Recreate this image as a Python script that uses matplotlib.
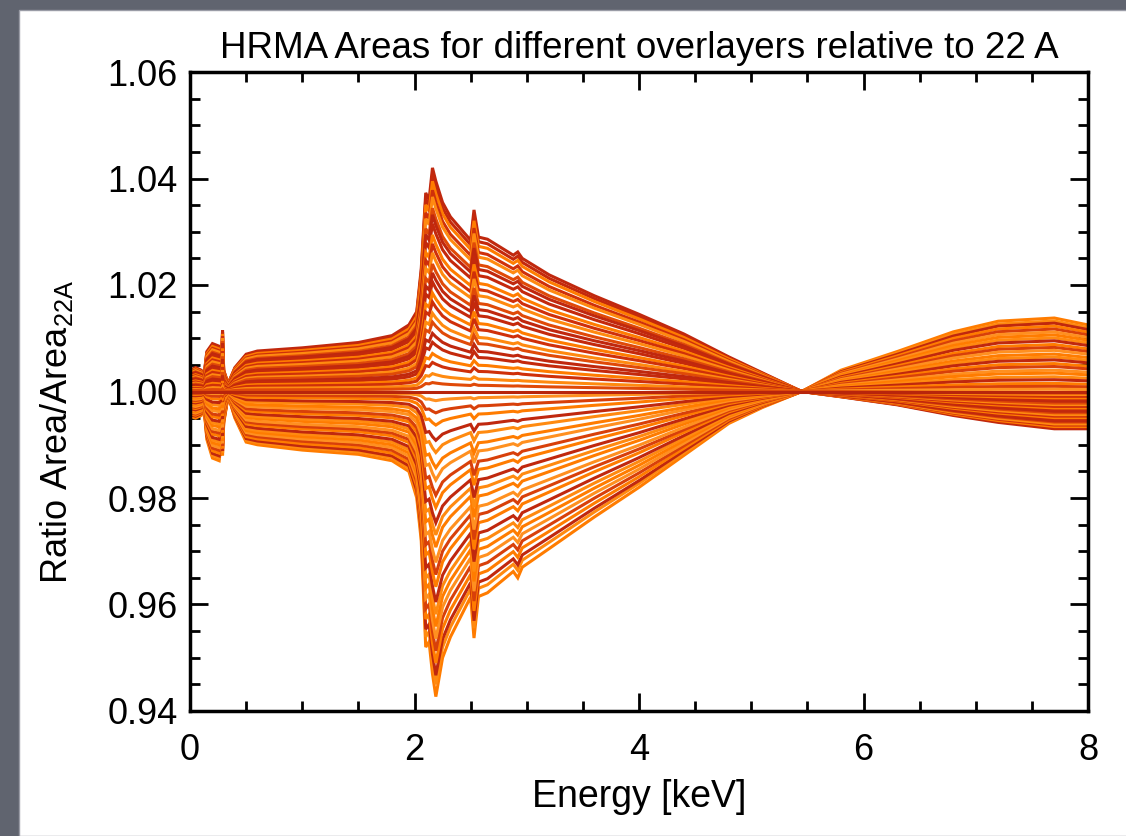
import matplotlib
matplotlib.use("Agg")
import matplotlib.pyplot as plt
import numpy as np
from matplotlib.patches import Rectangle
from matplotlib.ticker import MultipleLocator

plt.rcParams['font.family'] = ['Liberation Sans', 'DejaVu Sans']
plt.rcParams['mathtext.default'] = 'regular'

# energy knots (keV)
energy = [0.00, 0.05, 0.10, 0.125, 0.15, 0.20, 0.26, 0.28, 0.29, 0.30, 0.34, 0.40,
          0.50, 0.60, 1.00, 1.50, 1.80, 1.95, 2.02, 2.06, 2.10, 2.13, 2.16, 2.19,
          2.25, 2.32, 2.50, 2.53, 2.57, 2.65, 2.88, 2.92, 2.96, 3.20, 3.60, 4.00,
          4.40, 4.80, 5.10, 5.45, 5.80, 6.30, 6.80, 7.20, 7.70, 8.00]

# deviation from 1 of the outermost curve that rises at the 2 keV edge
upper_dev = [0.0040, 0.0045, 0.0040, 0.0030, 0.0075, 0.0090, 0.0085, 0.0060, 0.0115, 0.0040,
             0.0015, 0.0045, 0.0070, 0.0076, 0.0082, 0.0092, 0.0105, 0.0125, 0.0150, 0.0230,
             0.0373, 0.0360, 0.0420, 0.0395, 0.0355, 0.0328, 0.0284, 0.0341, 0.0290, 0.0286,
             0.0256, 0.0262, 0.0250, 0.0219, 0.0180, 0.0145, 0.0108, 0.0065, 0.0035, 0.0000,
             -0.0010, -0.0025, -0.0045, -0.0058, -0.0070, -0.0070]

# deviation from 1 of the outermost curve that drops at the 2 keV edge
lower_dev = [-0.0047, -0.0050, -0.0045, -0.0030, -0.0090, -0.0125, -0.0130, -0.0090, -0.0120, -0.0060,
             -0.0008, -0.0050, -0.0095, -0.0100, -0.0110, -0.0118, -0.0130, -0.0150, -0.0200, -0.0280,
             -0.0480, -0.0470, -0.0530, -0.0573, -0.0500, -0.0461, -0.0386, -0.0463, -0.0385, -0.0378,
             -0.0338, -0.0350, -0.0330, -0.0295, -0.0236, -0.0180, -0.0120, -0.0060, -0.0030, 0.0000,
             0.0040, 0.0075, 0.0112, 0.0132, 0.0138, 0.0125]

# relative size of each overlayer curve against the outermost one
upper_scale = [1.00, 0.97, 0.94, 0.90, 0.87, 0.82, 0.79, 0.75, 0.70, 0.66, 0.62, 0.57,
               0.53, 0.49, 0.44, 0.40, 0.35, 0.31, 0.26, 0.22, 0.17, 0.13, 0.08, 0.04]
lower_scale = [1.00, 0.96, 0.93, 0.89, 0.85, 0.81, 0.77, 0.73, 0.69, 0.64, 0.60, 0.56,
               0.51, 0.47, 0.43, 0.38, 0.34, 0.29, 0.25, 0.20, 0.16, 0.11, 0.07, 0.03]

upper_colors = ['#c0280e', '#c4290c', '#ff7c00', '#cf300a', '#ff8a10', '#e04a08']
lower_colors = ['#ff7c00', '#ff8a10', '#c0280e', '#ff7c00', '#d8400a', '#ff9020']

E = np.array(energy)
up = np.array(upper_dev)
lo = np.array(lower_dev)

fig = plt.figure(figsize=(11.26, 8.36), dpi=100)
fig.patch.set_facecolor('#60646f')
fig.patches.append(Rectangle((19 / 1126, 0), 1, (836 - 10) / 836, transform=fig.transFigure,
                             facecolor='white', edgecolor='#9a9ca6', linewidth=1, zorder=-10))

ax = fig.add_axes([190 / 1126, (836 - 711) / 836, (1088 - 190) / 1126, (711 - 72) / 836])
ax.set_facecolor('white')

for i, s in enumerate(lower_scale):
    ax.plot(E, 1 + s * lo, color=lower_colors[i % len(lower_colors)], lw=2.2, solid_joinstyle='miter')
for i, s in enumerate(upper_scale):
    ax.plot(E, 1 + s * up, color=upper_colors[i % len(upper_colors)], lw=2.2, solid_joinstyle='miter')
ax.plot(E, np.ones_like(E), color='#b8250c', lw=2.2)

ax.set_xlim(0, 8)
ax.set_ylim(0.94, 1.06)
ax.xaxis.set_major_locator(MultipleLocator(2))
ax.xaxis.set_minor_locator(MultipleLocator(0.5))
ax.yaxis.set_major_locator(MultipleLocator(0.02))
ax.yaxis.set_minor_locator(MultipleLocator(0.005))
ax.yaxis.set_major_formatter(matplotlib.ticker.FormatStrFormatter('%.2f'))
ax.tick_params(which='both', direction='in', top=True, right=True, width=2, colors='black',
               labelsize=26)
ax.tick_params(which='major', length=13)
ax.tick_params(which='minor', length=7)
ax.tick_params(axis='y', pad=9)
ax.tick_params(axis='x', pad=16)
for sp in ax.spines.values():
    sp.set_linewidth(2.5)

ax.set_title('HRMA Areas for different overlayers relative to 22 A', fontsize=26.5, pad=10)
ax.set_xlabel('Energy [keV]', fontsize=27, labelpad=8)
ax.set_ylabel('Ratio Area/Area$_{22A}$', fontsize=26)
ax.yaxis.set_label_coords(-0.128, 0.437)

fig.savefig('out.png', dpi=100, facecolor=fig.get_facecolor())
